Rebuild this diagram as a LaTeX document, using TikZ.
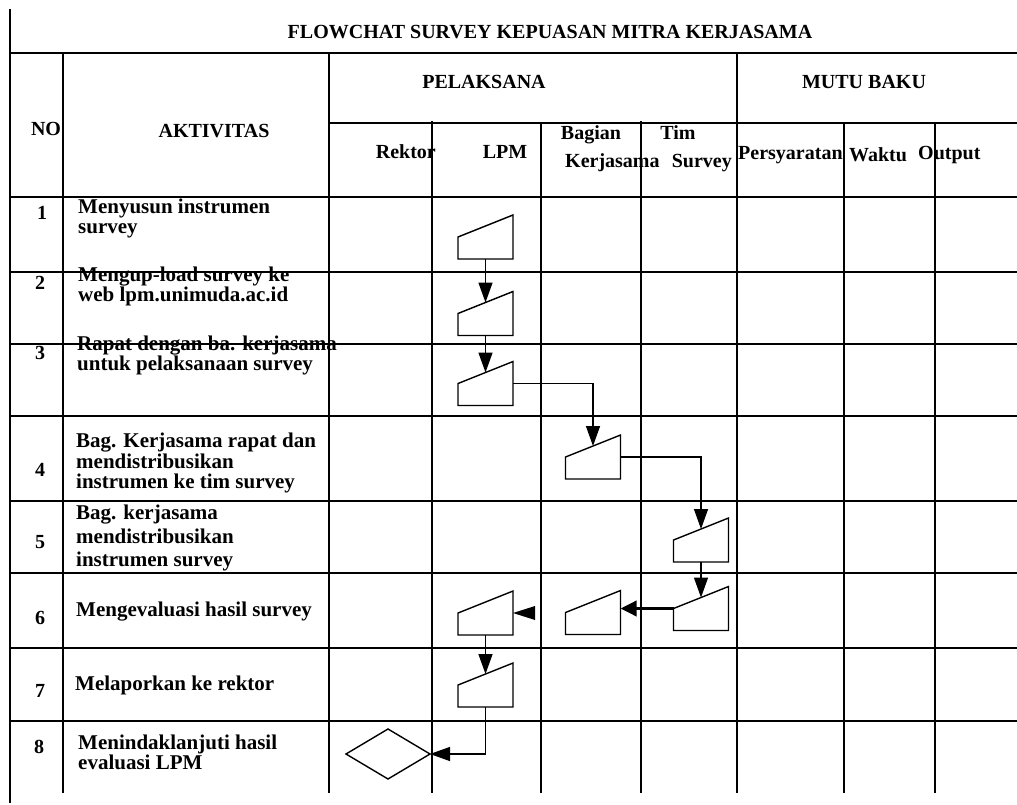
\documentclass[tikz,border=0pt]{standalone}
\usepackage{fontspec}
\setmainfont{Liberation Serif}
\usetikzlibrary{calc,arrows.meta,shapes.geometric}
\newcommand\mkmanin[3]{%
  \node[mi] (#1) at (#2,#3) {};
  \draw[shp] (#1.south west) -- (#1.south east) -- (#1.north east) -- (#1.west) -- cycle;}
\begin{document}
\begin{tikzpicture}[x=1pt,y=-1pt,
  gthin/.style={line width=1.6pt},
  gthick/.style={line width=2.6pt},
  gborder/.style={line width=2.8pt},
  hd/.style={font=\fontsize{20}{22}\selectfont\bfseries, inner sep=0},
  bd/.style={font=\fontsize{21}{20}\selectfont\bfseries, inner sep=0, align=left, anchor=west},
  num/.style={font=\fontsize{20}{22}\selectfont\bfseries, inner sep=0},
  mi/.style={minimum width=55pt, minimum height=44pt, inner sep=0, outer sep=0},
  shp/.style={line width=1.4pt, line join=miter, fill=white},
  arr/.style={line width=1.4pt, -{Triangle[length=20pt,width=14pt]}},
  arrb/.style={line width=3.5pt, -{Triangle[length=16pt,width=15pt]}},
  dia/.style={diamond, draw, line width=1.4pt, minimum width=84pt, minimum height=50pt, inner sep=0, outer sep=0}]
\useasboundingbox (0,0) rectangle (1017,805);
\fill[white] (0,0) rectangle (1017,805);

% ---- table grid ----
\foreach \y in {53,197,272,344,416,501,573,648,721} \draw[gthin] (10,\y) -- (1017,\y);
\draw[gthin] (329,123) -- (1017,123);
\draw[gborder] (10,9) -- (10,803);
\foreach \x in {63,329,737} \draw[gthin] (\x,53) -- (\x,793);
\draw[gthin] (541,123) -- (541,793);
\foreach \x in {432,641} \draw[gthick] (\x,121) -- (\x,793);
\foreach \x in {844,935} \draw[gthick] (\x,123) -- (\x,793);

% ---- headers ----
\node[hd] (title) at (550,32) {FLOWCHAT SURVEY KEPUASAN MITRA KERJASAMA};
\node[hd] (pel) at (484,82) {PELAKSANA};
\node[hd] (mutu) at (864,82) {MUTU BAKU};
\node[hd] (no) at (46,129) {NO};
\node[hd] (akt) at (214,131) {AKTIVITAS};
\node[hd, anchor=east] (rektor) at (436,152) {Rektor};
\node[hd] (lpm) at (505,152) {LPM};
\node[hd] (bagian) at (591,135) {Bagian};
\node[hd] (tim) at (678,133) {Tim};
\node[hd, anchor=west] (kerja) at (565,163) {Kerjasama};
\node[hd, anchor=east] (survey) at (732,163) {Survey};
\node[hd, anchor=west] (persy) at (738,155) {Persyaratan};
\node[hd] (waktu) at (878,155) {Waktu};
\node[hd, anchor=west] (output) at (918,155) {Output};

% ---- numbers ----
\node[num] (n1) at (42,213) {1};
\node[num] (n2) at (40,283) {2};
\node[num] (n3) at (40,353) {3};
\node[num] (n4) at (40,470) {4};
\node[num] (n5) at (40,542) {5};
\node[num] (n6) at (40,618) {6};
\node[num] (n7) at (40,691) {7};
\node[num] (n8) at (39,747) {8};

% ---- activities ----
\node[bd, font=\fontsize{21}{20}\selectfont\bfseries] (a1) at (78,218) {Menyusun instrumen\\survey};
\node[bd] (a2) at (78,286) {Mengup-load survey ke\\web lpm.unimuda.ac.id};
\node[bd] (a3) at (77,355) {Rapat dengan ba. kerjasama\\untuk pelaksanaan survey};
\node[bd, font=\fontsize{21}{20.5}\selectfont\bfseries] (a4) at (76,463) {Bag. Kerjasama rapat dan\\mendistribusikan\\instrumen ke tim survey};
\node[bd, font=\fontsize{21}{23.5}\selectfont\bfseries] (a5) at (76,538) {Bag. kerjasama\\mendistribusikan\\instrumen survey};
\node[bd] (a6) at (76,612) {Mengevaluasi hasil survey};
\node[bd] (a7) at (75,685) {Melaporkan ke rektor};
\node[bd, font=\fontsize{21}{18.5}\selectfont\bfseries] (a8) at (78,752) {Menindaklanjuti hasil\\evaluasi LPM};

% ---- flow shapes ----
\mkmanin{s1}{485.5}{237}
\mkmanin{s2}{485.5}{313.5}
\mkmanin{s3}{485.5}{383.5}
\mkmanin{s4}{593}{457}
\mkmanin{s5}{701}{540}
\mkmanin{s6c}{701}{608.5}
\mkmanin{s6b}{593}{612.5}
\mkmanin{s6a}{485.5}{613}
\mkmanin{s7}{485.5}{685}
\node[dia] (d8) at (388,754) {};

% ---- connectors ----
\draw[arr] (s1.south) -- ($(s2.center)!0.5!(s2.north)$);
\draw[arr] (s2.south) -- ($(s3.center)!0.5!(s3.north)$);
\draw[arr] (s3.east) -| ($(s4.center)!0.5!(s4.north)$);
\draw[arr] (s4.east) -| ($(s5.center)!0.5!(s5.north)$);
\draw[arr] (s5.south) -- ($(s6c.center)!0.5!(s6c.north)$);
\draw[arrb] (s6c.west) -- (s6b.east |- s6c.west);
\fill (s6a.east) -- ($(s6a.east)+(22,-7)$) -- ($(s6a.east)+(22,7)$) -- cycle;
\draw[arr] (s6a.south) -- ($(s7.center)!0.5!(s7.north)$);
\draw[arr] (s7.south) |- (d8.east);
\end{tikzpicture}
\end{document}
